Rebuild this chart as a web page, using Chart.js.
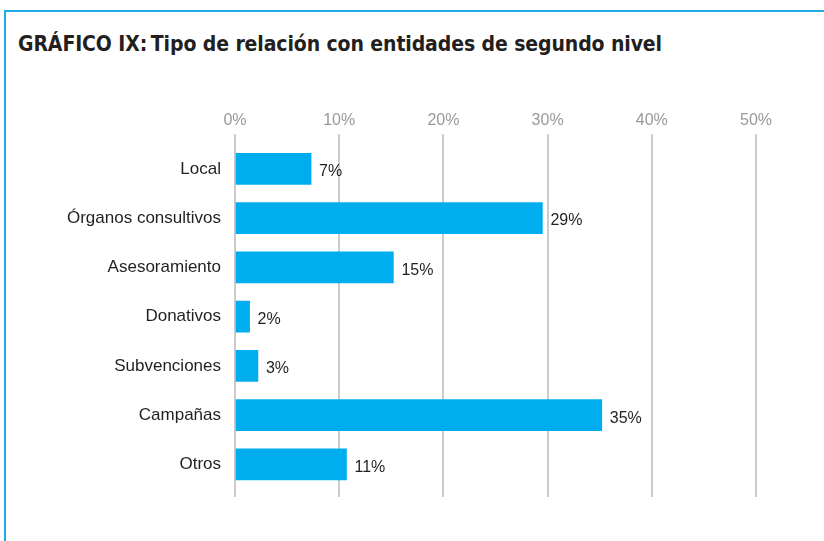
<!DOCTYPE html>
<html>
<head>
<meta charset="utf-8">
<script src="https://cdn.jsdelivr.net/npm/chart.js@4/dist/chart.umd.min.js"></script>
<style>
  html, body { margin: 0; padding: 0; background: #fff; }
  body { width: 824px; height: 541px; position: relative; overflow: hidden; }
  .frame {
    position: absolute; left: 4px; top: 10px; width: 830px; height: 540px;
    border-left: 2px solid #1fa9e6; border-top: 2px solid #1fa9e6;
  }
  h1 {
    position: absolute; left: 18px; top: 32px; margin: 0;
    font-family: "Liberation Sans Narrow", "DejaVu Sans Condensed", "Liberation Sans", sans-serif;
    font-weight: bold; font-size: 21px; color: #231f20; letter-spacing: -0.1px;
    white-space: nowrap;
  }
  #wrap { position: absolute; left: 0; top: 0; width: 824px; height: 541px; }
</style>
</head>
<body>
<div class="frame"></div>
<h1>GRÁFICO IX:&thinsp;Tipo de relación con entidades de segundo nivel</h1>
<div id="wrap"><canvas id="grafico" width="824" height="541"></canvas></div>
<script>
const categorias = ['Local', 'Órganos consultivos', 'Asesoramiento', 'Donativos', 'Subvenciones', 'Campañas', 'Otros'];
const valores = [7.3, 29.5, 15.2, 1.4, 2.2, 35.2, 10.7];
const etiquetas = ['7%', '29%', '15%', '2%', '3%', '35%', '11%'];
const ticksX = [0, 10, 20, 30, 40, 50];

const fuente = '"Liberation Sans", Arial, sans-serif';

// etiquetas de valor a la derecha de cada barra
const valorPlugin = {
    id: 'valorPlugin',
    afterDatasetsDraw(chart) {
        const ctx = chart.ctx;
        const meta = chart.getDatasetMeta(0);
        ctx.save();
        ctx.font = '16px ' + fuente;
        ctx.fillStyle = '#231f20';
        ctx.textBaseline = 'middle';
        meta.data.forEach((bar, i) => {
            ctx.fillText(etiquetas[i], bar.x + 8, bar.y + 3);
        });
        ctx.restore();
    }
};

// prolonga las líneas de cuadrícula por debajo del área
const gridExtra = {
    id: 'gridExtra',
    beforeDatasetsDraw(chart) {
        const ctx = chart.ctx;
        const sx = chart.scales.x;
        const bottom = chart.chartArea.bottom;
        ctx.save();
        ctx.strokeStyle = '#cccccc';
        ctx.lineWidth = 2;
        ticksX.forEach(v => {
            const px = Math.round(sx.getPixelForValue(v));
            ctx.beginPath();
            ctx.moveTo(px, bottom);
            ctx.lineTo(px, bottom + 8);
            ctx.stroke();
        });
        ctx.restore();
    }
};

new Chart(document.getElementById('grafico'), {
    type: 'bar',
    data: {
        labels: categorias,
        datasets: [{
            data: valores,
            backgroundColor: '#00aeef',
            borderWidth: 0,
            barThickness: 31
        }]
    },
    options: {
        indexAxis: 'y',
        responsive: false,
        animation: false,
        devicePixelRatio: 1,
        layout: { padding: { left: 0, right: 68, top: 107, bottom: 52 } },
        plugins: {
            legend: { display: false },
            tooltip: { enabled: false }
        },
        scales: {
            x: {
                position: 'top',
                min: 0,
                max: 50,
                afterBuildTicks: (scale) => { scale.ticks = ticksX.map(v => ({ value: v })); },
                border: { display: false },
                grid: { color: '#cccccc', lineWidth: 2, tickLength: 10, drawTicks: true },
                ticks: {
                    color: '#999999',
                    padding: 4,
                    font: { family: fuente, size: 16 },
                    callback: (v) => v + '%'
                }
            },
            y: {
                border: { display: false },
                grid: { display: false, drawTicks: false },
                afterFit: (scale) => { scale.width = 235; },
                ticks: {
                    color: '#231f20',
                    padding: 14,
                    font: { family: fuente, size: 17 }
                }
            }
        }
    },
    plugins: [valorPlugin, gridExtra]
});
</script>
</body>
</html>
